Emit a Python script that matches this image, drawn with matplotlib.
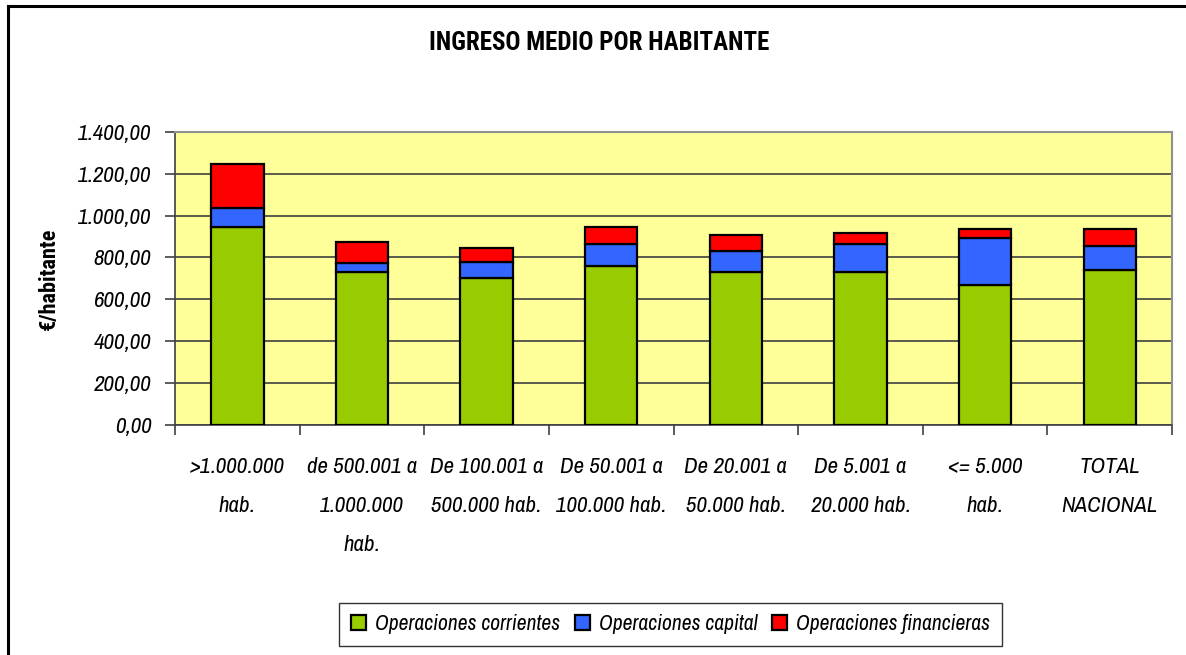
import numpy as np
import matplotlib
matplotlib.use('Agg')
import matplotlib.pyplot as plt
from matplotlib.lines import Line2D

plt.rcParams['font.family'] = ['Archivo Narrow', 'Roboto Condensed', 'DejaVu Sans']
negrita = ['Roboto Condensed', 'Liberation Sans', 'DejaVu Sans']

categorias = ['>1.000.000\nhab.', 'de 500.001 a\n1.000.000\nhab.', 'De 100.001 a\n500.000 hab.',
              'De 50.001 a\n100.000 hab.', 'De 20.001 a\n50.000 hab.', 'De 5.001 a\n20.000 hab.',
              '<= 5.000\nhab.', 'TOTAL\nNACIONAL']
corrientes = [946, 732, 700, 760, 730, 730, 670, 740]
capital = [92, 40, 80, 104, 102, 132, 224, 113]
financieras = [208, 100, 66, 82, 73, 56, 43, 84]
y_ticks = [0, 200, 400, 600, 800, 1000, 1200, 1400]
y_labels = ['0,00', '200,00', '400,00', '600,00', '800,00', '1.000,00', '1.200,00', '1.400,00']

fig = plt.figure(figsize=(11.86, 6.55), dpi=100)
ax = fig.add_axes([0.1476, 0.3511, 0.8406, 0.4478])
ax.set_facecolor('#FFFF99')

x = np.arange(len(categorias))
w = 0.42
corr = np.array(corrientes)
cap = np.array(capital)
fin = np.array(financieras)
ax.bar(x, corr, w, color='#99CC00', edgecolor='black', linewidth=1.6, label='Operaciones corrientes', zorder=3)
ax.bar(x, cap, w, bottom=corr, color='#3366FF', edgecolor='black', linewidth=1.6, label='Operaciones capital', zorder=3)
ax.bar(x, fin, w, bottom=corr + cap, color='#FF0000', edgecolor='black', linewidth=1.6, label='Operaciones financieras', zorder=3)

ax.set_xlim(-0.5, len(categorias) - 0.5)
ax.set_ylim(0, 1400)
ax.set_yticks(y_ticks)
ax.set_yticklabels(y_labels, fontsize=16.5, style='italic')
ax.yaxis.grid(True, color='#404040', linewidth=1.2, zorder=0)
ax.set_axisbelow(True)

ax.set_xticks(x)
ax.set_xticklabels(categorias, fontsize=16.5, style='italic', linespacing=2.2)
ax.set_xticks(np.arange(len(categorias) + 1) - 0.5, minor=True)
ax.tick_params(axis='x', which='major', length=0, pad=23)
ax.tick_params(axis='x', which='minor', length=7, width=1.2, color='#404040')
ax.tick_params(axis='y', length=7, width=1.2, color='#404040', pad=10)

for s in ['top', 'right']:
    ax.spines[s].set_color('#909090')
    ax.spines[s].set_linewidth(1.5)
for s in ['left', 'bottom']:
    ax.spines[s].set_color('#404040')
    ax.spines[s].set_linewidth(1.2)

ax.set_ylabel('€/habitante', fontsize=16, fontweight='bold', family=negrita, labelpad=13)
fig.text(0.505, 0.934, 'INGRESO MEDIO POR HABITANTE', ha='center', va='center',
         fontsize=18, fontweight='bold', family=negrita)

leg = ax.legend(loc='center', bbox_to_anchor=(0.497, -0.68), ncol=3,
                prop={'style': 'italic', 'size': 15.5}, frameon=True, fancybox=False,
                edgecolor='black', handlelength=0.7, handleheight=0.7, handletextpad=0.4,
                columnspacing=0.7, borderpad=0.55)
leg.get_frame().set_linewidth(1.0)

# marco de la figura
fig.add_artist(Line2D([7.5 / 1186, 7.5 / 1186], [0, 1 - 6 / 655], color='black', linewidth=2.2,
                      transform=fig.transFigure))
fig.add_artist(Line2D([7.5 / 1186, 1], [1 - 6 / 655, 1 - 6 / 655], color='black', linewidth=2.2,
                      transform=fig.transFigure))

fig.savefig('out.png', dpi=100, facecolor='white')
